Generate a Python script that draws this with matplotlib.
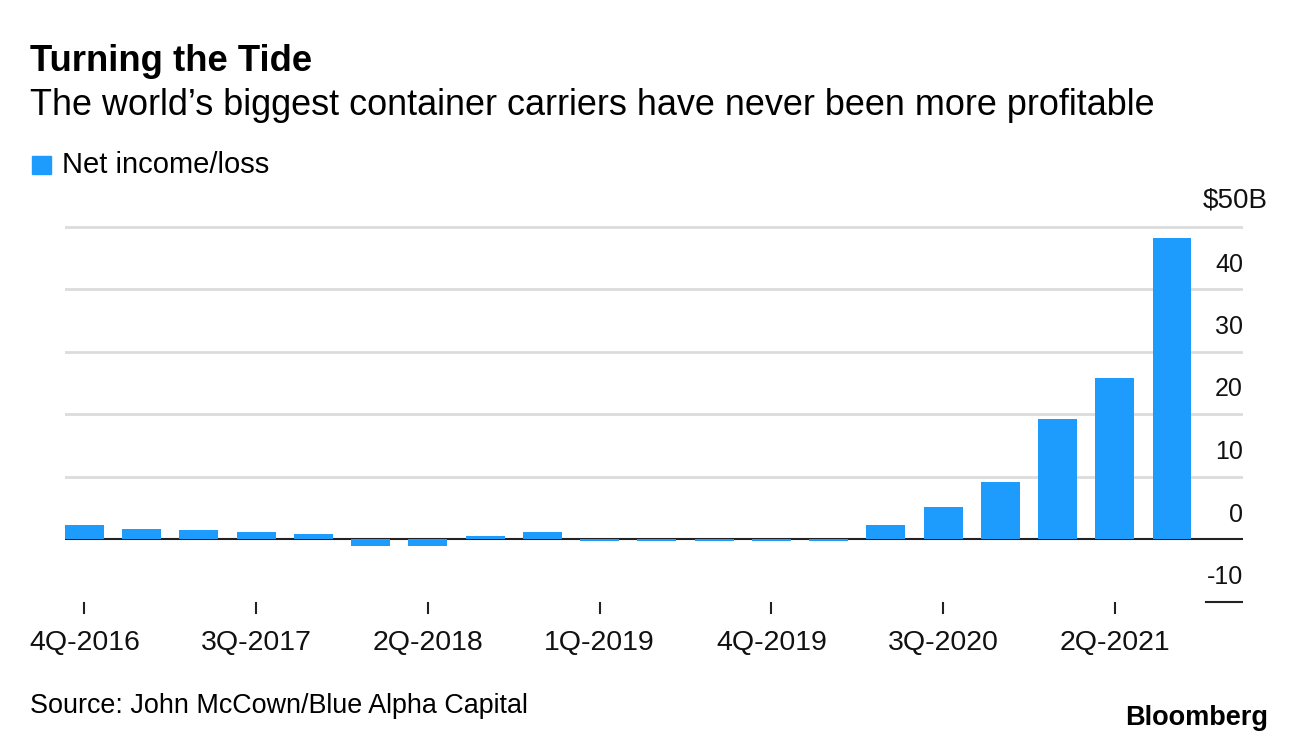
import matplotlib
matplotlib.use("Agg")
import matplotlib.pyplot as plt
import numpy as np

plt.rcParams['font.family'] = ['Liberation Sans', 'DejaVu Sans']

quarters = ["4Q-2016", "1Q-2017", "2Q-2017", "3Q-2017", "4Q-2017",
            "1Q-2018", "2Q-2018", "3Q-2018", "4Q-2018",
            "1Q-2019", "2Q-2019", "3Q-2019", "4Q-2019",
            "1Q-2020", "2Q-2020", "3Q-2020", "4Q-2020",
            "1Q-2021", "2Q-2021", "3Q-2021"]
net_income = [2.3, 1.65, 1.4, 1.05, 0.75, -1.15, -1.15, 0.45, 1.1,
              -0.25, -0.25, -0.25, -0.25, -0.25,
              2.25, 5.1, 9.1, 19.2, 25.8, 48.2]
label_quarters = ["4Q-2016", "3Q-2017", "2Q-2018", "1Q-2019", "4Q-2019", "3Q-2020", "2Q-2021"]
grid_values = [10, 20, 30, 40, 50]
y_labels = {40: "40", 30: "30", 20: "20", 10: "10", 0: "0", -10: "-10"}

W, H = 1296, 744
fig = plt.figure(figsize=(W / 100, H / 100), dpi=100)
fig.patch.set_facecolor("white")

PX_PER_UNIT = 6.25
left_px, right_px = 65, 1243
top_px, bottom_px = 220, 620
ax = fig.add_axes([left_px / W, 1 - bottom_px / H, (right_px - left_px) / W, (bottom_px - top_px) / H])
ax.set_xlim(-0.34, 20.24)
ax.set_ylim(-12.96, 51.04)
for s in ax.spines.values():
    s.set_visible(False)
ax.set_xticks([])
ax.set_yticks([])

x = np.arange(len(quarters))
bar_color = "#1e9cfd"

for g in grid_values:
    ax.axhline(g, color="#dcdcdc", lw=2, zorder=1)

ax.axhline(0, color="#222222", lw=1.5, zorder=2)
ax.bar(x, net_income, width=0.68, color=bar_color, zorder=3)
ax.axhline(-10, xmin=(1206 - left_px) / (right_px - left_px), xmax=1, color="#222222", lw=1.5, zorder=3)

off = 17.5 / PX_PER_UNIT
for v, t in y_labels.items():
    ax.text(1.0, v + off, t, transform=ax.get_yaxis_transform(),
            ha="right", va="baseline", fontsize=18, color="#111111")
ax.text(1.0 + 25 / (right_px - left_px), 50 + 19 / PX_PER_UNIT, "$50B", transform=ax.get_yaxis_transform(),
        ha="right", va="baseline", fontsize=20, color="#111111")

# x tick marks and labels
for q in label_quarters:
    i = quarters.index(q)
    ax.plot([i, i], [-64 / PX_PER_UNIT, -74 / PX_PER_UNIT], color="#222222", lw=1.5, clip_on=False)
    ax.text(i, -111 / PX_PER_UNIT, q, ha="center", va="baseline", fontsize=20.5, color="#111111", clip_on=False)

# titles
fig.text(30 / W, 1 - 71 / H, "Turning the Tide", fontsize=26.3, fontweight="bold", ha="left", va="baseline", color="#000000")
fig.text(30 / W, 1 - 115 / H, "The world\u2019s biggest container carriers have never been more profitable",
         fontsize=25.9, ha="left", va="baseline", color="#000000")

# legend
fig.patches.append(plt.Rectangle((32 / W, 1 - 174 / H), 19 / W, 18 / H, transform=fig.transFigure,
                                 color=bar_color, figure=fig))
fig.text(62 / W, 1 - 173 / H, "Net income/loss", fontsize=21, ha="left", va="baseline", color="#000000")

# footer
fig.text(30 / W, 1 - 713 / H, "Source: John McCown/Blue Alpha Capital", fontsize=19.4, ha="left", va="baseline", color="#000000")
fig.text(1268 / W, 1 - 725 / H, "Bloomberg", fontsize=19.5, fontweight="bold", ha="right", va="baseline", color="#000000")

fig.savefig("out.png", dpi=100, facecolor="white")
